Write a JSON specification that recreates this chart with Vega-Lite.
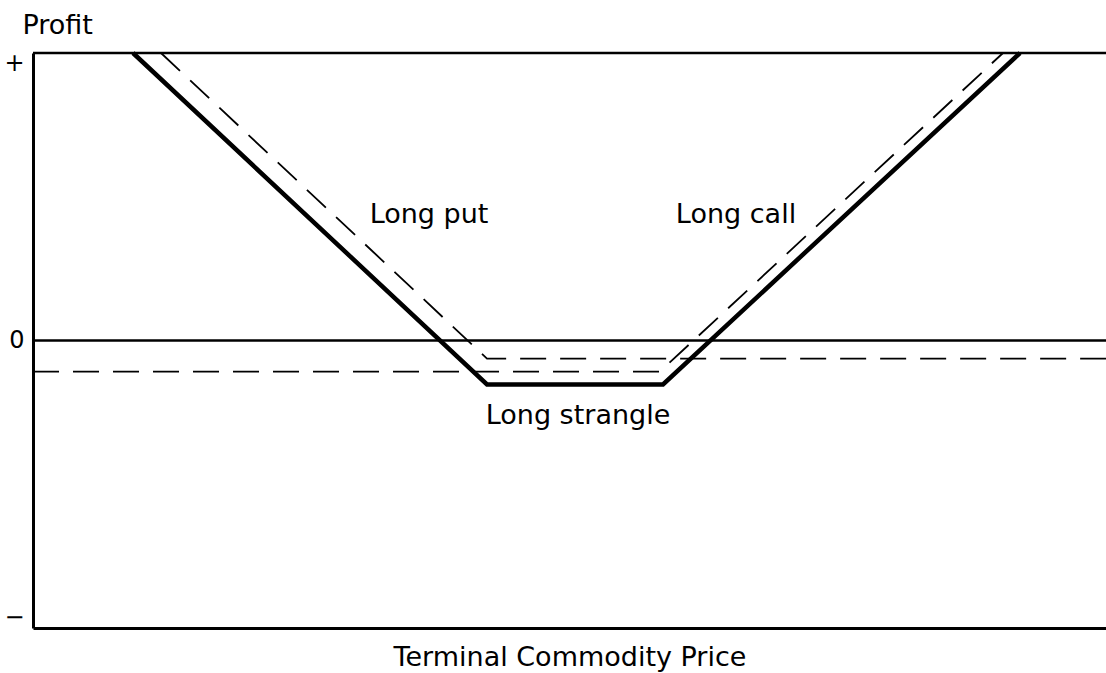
{
  "$schema": "https://vega.github.io/schema/vega-lite/v6.json",
  "width": 1073,
  "height": 575,
  "autosize": {"type": "none"},
  "padding": {"left": 33, "top": 53, "right": 0, "bottom": 45},
  "background": "white",
  "config": {"view": {"stroke": null}, "font": "DejaVu Sans"},
  "datasets": {
    "lines": [
      {"series": "strangle", "order": 1, "price": 100, "profit": 10},
      {"series": "strangle", "order": 2, "price": 454, "profit": -1.53},
      {"series": "strangle", "order": 3, "price": 630, "profit": -1.53},
      {"series": "strangle", "order": 4, "price": 987, "profit": 10},
      {"series": "put", "order": 1, "price": 128, "profit": 10},
      {"series": "put", "order": 2, "price": 454, "profit": -0.63},
      {"series": "put", "order": 3, "price": 1073, "profit": -0.63},
      {"series": "call", "order": 1, "price": 0, "profit": -1.08},
      {"series": "call", "order": 2, "price": 627, "profit": -1.08},
      {"series": "call", "order": 3, "price": 970, "profit": 10}
    ],
    "levels": [
      {"name": "top", "level": 10},
      {"name": "zero", "level": 0}
    ],
    "labels": [
      {"text": "Long put", "price": 396, "profit": 4.07},
      {"text": "Long call", "price": 703, "profit": 4.07},
      {"text": "Long strangle", "price": 545, "profit": -2.89}
    ]
  },
  "layer": [
    {
      "data": {"name": "levels"},
      "mark": {"type": "rule", "color": "black", "strokeWidth": 2.6},
      "encoding": {
        "y": {
          "field": "level",
          "type": "quantitative",
          "scale": {"domain": [-10, 10], "nice": false, "zero": false},
          "axis": {
            "values": [-9.65, 0, 9.65],
            "labelExpr": "datum.value > 1 ? '+' : (datum.value < -1 ? '−' : '0')",
            "ticks": false,
            "grid": false,
            "domainColor": "black",
            "domainWidth": 3,
            "labelFontSize": 24,
            "labelColor": "black",
            "labelPadding": 9,
            "labelFont": "DejaVu Sans",
            "labelOverlap": false,
            "labelFlush": false,
            "title": "Profit",
            "titleAngle": 0,
            "titleAlign": "left",
            "titleBaseline": "alphabetic",
            "titleX": -11,
            "titleY": -20,
            "titleFontSize": 27,
            "titleFontWeight": "normal",
            "titleColor": "black",
            "titleFont": "DejaVu Sans"
          }
        }
      }
    },
    {
      "data": {"name": "lines"},
      "transform": [{"filter": "datum.series === 'strangle'"}],
      "mark": {"type": "line", "color": "black", "strokeWidth": 4.5, "strokeJoin": "miter"},
      "encoding": {
        "x": {
          "field": "price",
          "type": "quantitative",
          "scale": {"domain": [0, 1073], "nice": false, "zero": false},
          "axis": {
            "ticks": false,
            "labels": false,
            "grid": false,
            "domainWidth": 3,
            "domainColor": "black",
            "title": "Terminal Commodity Price",
            "titleFontSize": 27,
            "titleFontWeight": "normal",
            "titleColor": "black",
            "titleFont": "DejaVu Sans",
            "titleBaseline": "alphabetic",
            "titleY": 37
          }
        },
        "y": {"field": "profit", "type": "quantitative"},
        "order": {"field": "order"}
      }
    },
    {
      "data": {"name": "lines"},
      "transform": [{"filter": "datum.series !== 'strangle'"}],
      "mark": {"type": "line", "color": "black", "strokeWidth": 1.8, "strokeDash": [26, 14]},
      "encoding": {
        "x": {"field": "price", "type": "quantitative"},
        "y": {"field": "profit", "type": "quantitative"},
        "detail": {"field": "series"},
        "order": {"field": "order"}
      }
    },
    {
      "data": {"name": "labels"},
      "mark": {"type": "text", "fontSize": 27, "font": "DejaVu Sans", "baseline": "alphabetic", "align": "center", "color": "black"},
      "encoding": {
        "x": {"field": "price", "type": "quantitative"},
        "y": {"field": "profit", "type": "quantitative"},
        "text": {"field": "text"}
      }
    }
  ]
}
